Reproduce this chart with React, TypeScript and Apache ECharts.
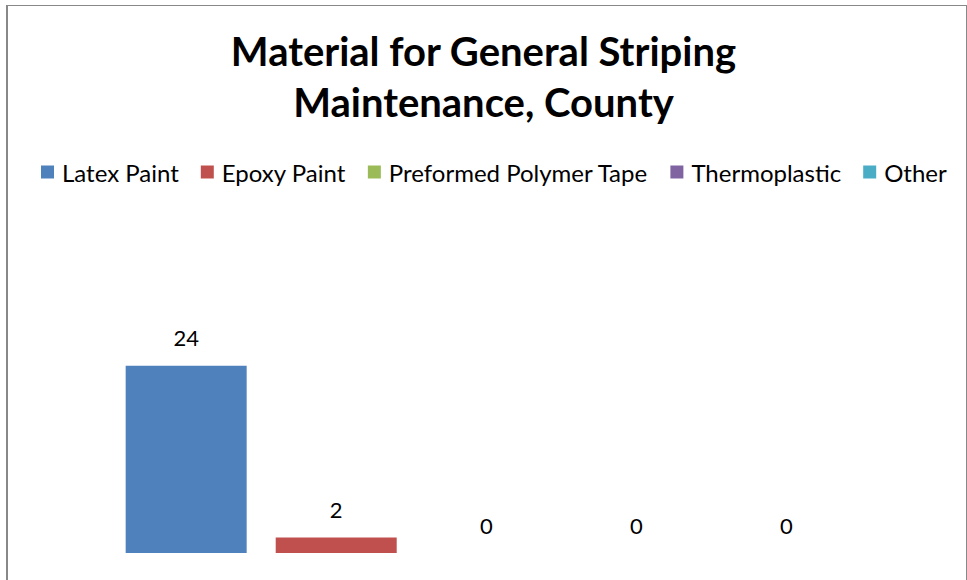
import React, { useEffect, useRef } from "react";
import * as echarts from "echarts";

const titleText = "Material for General Striping\nMaintenance, County";
const categories = ["County"];
const seriesNames = ["Latex Paint", "Epoxy Paint", "Preformed Polymer Tape", "Thermoplastic", "Other"];
const seriesValues = [24, 2, 0, 0, 0];
const seriesColors = ["#4F81BD", "#C0504D", "#9BBB59", "#8064A2", "#4BACC6"];

export default function App() {
  const ref = useRef<HTMLDivElement>(null);
  useEffect(() => {
    if (!ref.current) return;
    const chart = echarts.init(ref.current, null, { renderer: "svg" });
    const font = "Lato, 'Open Sans', sans-serif";
    chart.setOption({
      animation: false,
      backgroundColor: "#ffffff",
      title: {
        text: titleText,
        left: "center",
        top: 20,
        textStyle: {
          fontFamily: font,
          fontSize: 40,
          fontWeight: "bold",
          color: "#000",
          lineHeight: 51,
        },
      },
      legend: {
        left: 36,
        top: 155,
        itemWidth: 13,
        itemHeight: 13,
        itemGap: 22,
        icon: "rect",
        textStyle: {
          fontFamily: font,
          fontSize: 24,
          color: "#000",
          padding: [0, 0, 0, 3],
        },
        data: seriesNames,
      },
      grid: { left: 10, width: 952.5, top: 319, bottom: 27, containLabel: false },
      xAxis: { type: "category", data: categories, show: false },
      yAxis: { type: "value", min: 0, max: 30, show: false, splitLine: { show: false } },
      graphic: [
        { type: "line", shape: { x1: 7, y1: 5, x2: 7, y2: 600 }, style: { stroke: "#888", lineWidth: 2 } },
        { type: "line", shape: { x1: 6, y1: 5.5, x2: 967, y2: 5.5 }, style: { stroke: "#888", lineWidth: 1 } },
        { type: "line", shape: { x1: 966.5, y1: 5, x2: 966.5, y2: 600 }, style: { stroke: "#888", lineWidth: 1 } },
      ],
      series: seriesNames.map((name, i) => ({
        name,
        type: "bar",
        data: [seriesValues[i]],
        barWidth: 121,
        barGap: "24%",
        itemStyle: { color: seriesColors[i] },
        label: {
          show: true,
          position: "top",
          distance: 17,
          fontFamily: font,
          fontSize: 22,
          color: "#000",
        },
      })),
    });
    return () => chart.dispose();
  }, []);
  return <div ref={ref} style={{ position: "absolute", left: 0, top: 0, width: 967, height: 580 }} />;
}
